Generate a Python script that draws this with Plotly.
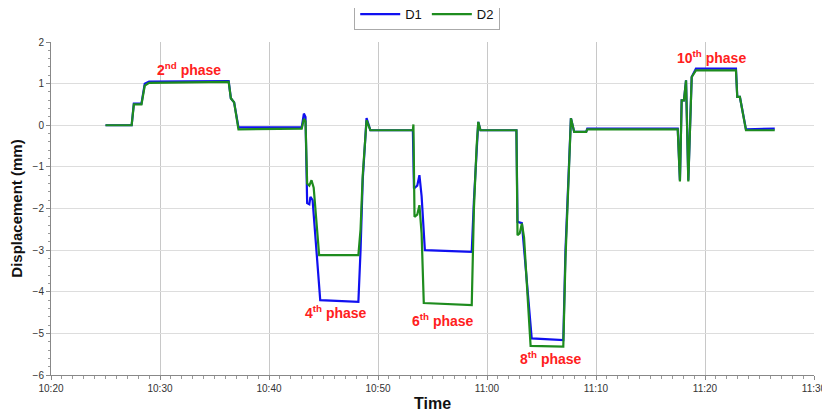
import pandas as pd
import plotly.graph_objects as go

# minutes after 10:20
d1_minutes = [5.0, 7.4, 7.6, 8.3, 8.6, 9.0, 16.3, 16.5, 16.8, 17.2, 23.0, 23.2, 23.35, 23.5, 23.7, 23.8, 24.0,
              24.7, 28.2, 28.4, 28.6, 28.8, 28.95, 29.3, 33.2, 33.3, 33.6, 33.8, 34.0, 34.3, 38.6, 38.8, 39.05,
              39.2, 39.4, 42.7, 42.8, 43.2, 44.1, 47.0, 47.2, 47.5, 47.7, 48.0, 49.1, 49.2, 57.5, 57.7, 57.86,
              58.07, 58.26, 58.47, 58.78, 59.17, 62.84, 62.96, 63.2, 63.76, 66.4]
d1_values = [0.0, 0.0, 0.52, 0.52, 1.0, 1.05, 1.06, 0.65, 0.55, -0.05, -0.05, 0.28, 0.2, -1.87, -1.9, -1.72, -1.8,
             -4.2, -4.24, -3.0, -1.3, -0.3, 0.17, -0.12, -0.12, -1.52, -1.45, -1.2, -1.7, -3.0, -3.04, -1.8, -0.6,
             0.08, -0.12, -0.12, -2.32, -2.35, -5.12, -5.16, -3.0, -1.0, 0.17, -0.16, -0.16, -0.08, -0.08, -1.32, 0.6,
             0.6, 1.08, -1.32, 1.16, 1.36, 1.36, 0.68, 0.68, -0.1, -0.08]

d2_minutes = [5.0, 7.4, 7.6, 8.3, 8.6, 9.0, 16.3, 16.5, 16.8, 17.2, 23.0, 23.2, 23.35, 23.5, 23.7, 23.9, 24.1,
              24.6, 28.2, 28.4, 28.6, 28.8, 28.95, 29.3, 33.2, 33.25, 33.35, 33.6, 33.8, 34.0, 34.2, 38.6, 38.8,
              39.05, 39.2, 39.4, 42.7, 42.8, 43.0, 43.2, 43.4, 44.0, 47.0, 47.2, 47.5, 47.7, 48.0, 49.1, 49.2,
              57.5, 57.7, 57.86, 58.07, 58.26, 58.47, 58.78, 59.17, 62.84, 62.96, 63.2, 63.76, 66.4]
d2_values = [0.0, 0.0, 0.5, 0.5, 0.95, 1.02, 1.04, 0.65, 0.55, -0.1, -0.08, 0.15, 0.1, -1.4, -1.45, -1.32, -1.5,
             -3.12, -3.12, -2.5, -1.2, -0.3, 0.12, -0.12, -0.12, 0.02, -2.2, -2.15, -1.92, -2.6, -4.27, -4.32, -2.0,
             -0.5, 0.08, -0.12, -0.12, -2.64, -2.6, -2.36, -2.7, -5.3, -5.32, -3.2, -1.0, 0.17, -0.16, -0.16, -0.1,
             -0.1, -1.35, 0.6, 0.6, 1.08, -1.35, 1.16, 1.32, 1.32, 0.68, 0.68, -0.12, -0.12]

phase_labels = ["2<sup>nd</sup> phase", "4<sup>th</sup> phase", "6<sup>th</sup> phase",
                "8<sup>th</sup> phase", "10<sup>th</sup> phase"]
phase_minutes = [12.66, 26.15, 36.0, 45.9, 60.6]
phase_values = [1.34, -4.48, -4.68, -5.59, 1.63]

base = pd.Timestamp("2020-01-01 10:20:00")
to_time = lambda mins: [base + pd.Timedelta(minutes=m) for m in mins]

FONT = "Liberation Sans, Arial, sans-serif"

fig = go.Figure()
fig.add_trace(go.Scatter(x=to_time(d1_minutes), y=d1_values, mode="lines", name="D1",
                         line=dict(color="#1010F0", width=2.2)))
fig.add_trace(go.Scatter(x=to_time(d2_minutes), y=d2_values, mode="lines", name="D2",
                         line=dict(color="#1E8C1E", width=2.2)))

for lab, m, v in zip(phase_labels, phase_minutes, phase_values):
    fig.add_annotation(x=base + pd.Timedelta(minutes=m), y=v, text="<b>" + lab + "</b>",
                       showarrow=False, font=dict(family=FONT, size=14, color="#FF2020"))

# page body has an 8px default margin, so the figure is sized/offset to compensate
fig.update_layout(
    width=822, height=409,
    margin=dict(l=43, r=16, t=34, b=42, autoexpand=False),
    paper_bgcolor="white", plot_bgcolor="white",
    font=dict(family=FONT, color="#333333"),
    showlegend=True,
    legend=dict(orientation="h", xref="container", yref="container", x=0.51, y=0.985,
                xanchor="center", yanchor="middle", bordercolor="#AAAAAA", borderwidth=1,
                font=dict(family=FONT, size=13, color="#111111"), bgcolor="white",
                itemwidth=40, tracegroupgap=0),
)

fig.update_xaxes(
    type="date", automargin=False,
    range=[base, base + pd.Timedelta(minutes=70)],
    dtick=600000, tickformat="%H:%M",
    tickfont=dict(size=10, color="#333333"),
    showgrid=True, gridcolor="#C8C8C8", gridwidth=1,
    showline=True, linecolor="#888888", linewidth=1, mirror=False,
    ticks="outside", ticklen=4, tickcolor="#888888",
    minor=dict(dtick=60000, ticks="outside", ticklen=3, tickcolor="#999999", showgrid=False),
    title=dict(text="<b>Time</b>", font=dict(family=FONT, size=16, color="#111111"), standoff=4),
    zeroline=False,
)
fig.update_yaxes(
    range=[-6, 2], dtick=1, automargin=False,
    tickfont=dict(size=10, color="#333333"),
    showgrid=True, gridcolor="#DDDDDD", gridwidth=1,
    showline=True, linecolor="#888888", linewidth=1,
    ticks="outside", ticklen=4, tickcolor="#888888",
    minor=dict(dtick=0.2, ticks="outside", ticklen=2, tickcolor="#999999", showgrid=False),
    title=dict(text="<b>Displacement (mm)</b>", font=dict(family=FONT, size=15, color="#111111"), standoff=8),
    zeroline=False,
)

fig.write_html("out.html")
